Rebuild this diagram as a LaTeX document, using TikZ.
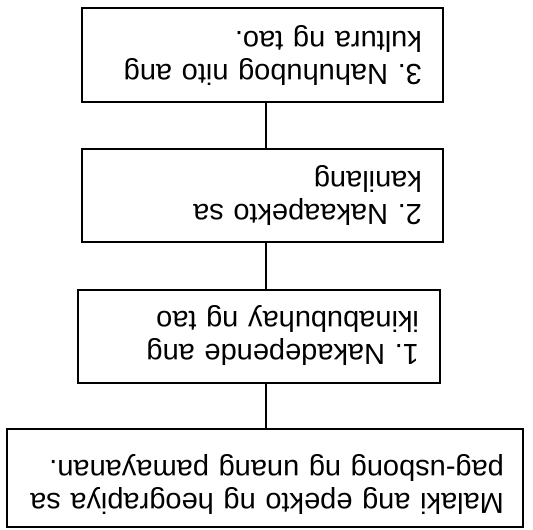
\documentclass[tikz,border=0pt]{standalone}
\usepackage{fontspec}
\setmainfont{Liberation Sans}
\frenchspacing

\tikzset{
    stage/.style={draw, line width=2.2pt, inner xsep=21pt, inner ysep=0pt, outer sep=0pt,
        align=left, anchor=north west, font=\fontsize{29}{33.5}\selectfont},
    link/.style={line width=1.6pt}
}

\begin{document}
\begin{tikzpicture}[x=1pt, y=1pt, rotate=180, transform shape]
    \fill[white] (0,0) rectangle (533,-530);
    \useasboundingbox (0,0) rectangle (533,-530);
    % the whole chart is printed upside down
    \node[stage, inner xsep=19pt, text width=478pt, text height=33pt, text depth=65pt] (intro) at (10,-3)
        {Malaki ang epekto ng heograpiya sa\\pag-usbong ng unang pamayanan.};
    \node[stage, text width=320pt, text height=38pt, text depth=55pt] (first) at (93,-147)
        {1. Nakadepende ang\\ikinabubuhay ng tao};
    \node[stage, text width=319pt, text height=37pt, text depth=56pt] (second) at (90,-288)
        {2. Nakaapekto sa\\kanilang};
    \node[stage, text width=319pt, text height=37pt, text depth=57pt] (third) at (90,-428)
        {3. Nahuhubog nito ang\\kultura ng tao.};
    \coordinate (spine) at (267,0);
    \draw[link] (intro.south -| spine) -- (first.north -| spine);
    \draw[link] (first.south -| spine) -- (second.north -| spine);
    \draw[link] (second.south -| spine) -- (third.north -| spine);
\end{tikzpicture}
\end{document}
